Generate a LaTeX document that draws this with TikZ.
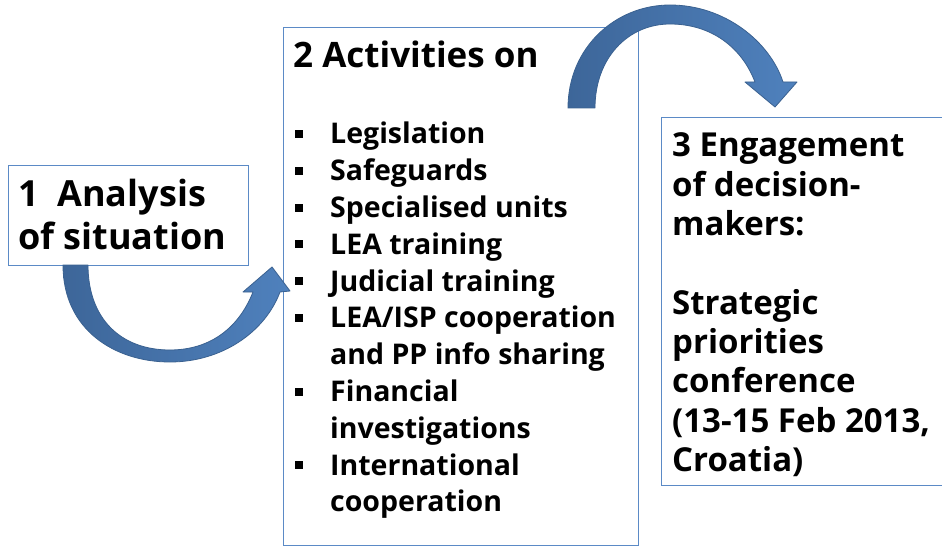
\documentclass[tikz,border=0pt]{standalone}
\usepackage{fontspec}
\setmainfont{Open Sans}
\usetikzlibrary{positioning,calc}
\definecolor{boxblue}{HTML}{5B8AC6}
\definecolor{arrowdark}{HTML}{3D6699}
\definecolor{arrowlight}{HTML}{4F81BD}
\definecolor{arrowline}{HTML}{3A6190}
\newcommand{\sqbul}{\rule[6pt]{8pt}{8pt}}

\begin{document}
\begin{tikzpicture}[x=1pt,y=-1pt,
    stage/.style={draw=boxblue,line width=0.8pt,fill=white,anchor=north west,inner sep=0pt},
    stagetext/.style={anchor=base west,inner sep=0pt},
    bigarrow/.style={left color=arrowdark,right color=arrowlight,draw=arrowline,line width=0.8pt,line join=round}]

  \useasboundingbox[fill=white] (0,0) rectangle (942,548);

  % the three stages
  \node[stage,minimum width=240pt,minimum height=100pt] (sit) at (8,165) {};
  \node[stage,minimum width=355pt,minimum height=518pt] (act) at (283,27) {};
  \node[stage,minimum width=290pt,minimum height=368pt] (eng) at (661,117) {};

  % curved arrows
  \draw[bigarrow] (63,265) .. controls (63,330) and (115,362) .. (170,362)
      .. controls (222,362) and (265,332) .. (280,292) -- (290,291) -- (272,267)
      -- (243,292) -- (253,292) .. controls (238,330) and (208,350) .. (170,350)
      .. controls (120,350) and (88,318) .. (88,265) -- cycle;
  \draw[bigarrow] (568,108) .. controls (568,48) and (615,5) .. (670,5)
      .. controls (725,5) and (770,42) .. (783,82) -- (797,82) -- (775,107)
      -- (745,82) -- (755,82) .. controls (742,48) and (712,24) .. (670,24)
      .. controls (628,24) and (595,58) .. (595,108) -- cycle;

  % texts
  \node[stagetext,font=\bfseries\fontsize{36}{43}\selectfont] (sittxt) at (18,207)
      {\begin{tabular}[t]{@{}l@{}}1~~Analysis\\of situation\end{tabular}};
  \node[stagetext,font=\bfseries\fontsize{35}{40}\selectfont] (acthead) at (293,68)
      {2 Activities on};
  \node[stagetext,font=\bfseries\fontsize{28.5}{36.8}\selectfont] (actlist) at (295,144)
      {\begin{tabular}[t]{@{}l@{\hspace{27pt}}l@{}}
        \sqbul & Legislation\\
        \sqbul & Safeguards\\
        \sqbul & Specialised units\\
        \sqbul & LEA training\\
        \sqbul & Judicial training\\
        \sqbul & LEA/ISP cooperation\\
               & and PP info sharing\\
        \sqbul & Financial\\
               & investigations\\
        \sqbul & International\\
               & cooperation
      \end{tabular}};
  \node[stagetext,font=\bfseries\fontsize{33}{39.3}\selectfont] (engtxt) at (672,157)
      {\begin{tabular}[t]{@{}l@{}}
        3 Engagement\\
        of decision-\\
        makers:\\
        \\
        Strategic\\
        priorities\\
        conference\\
        (13-15 Feb 2013,\\
        Croatia)
      \end{tabular}};
\end{tikzpicture}
\end{document}
